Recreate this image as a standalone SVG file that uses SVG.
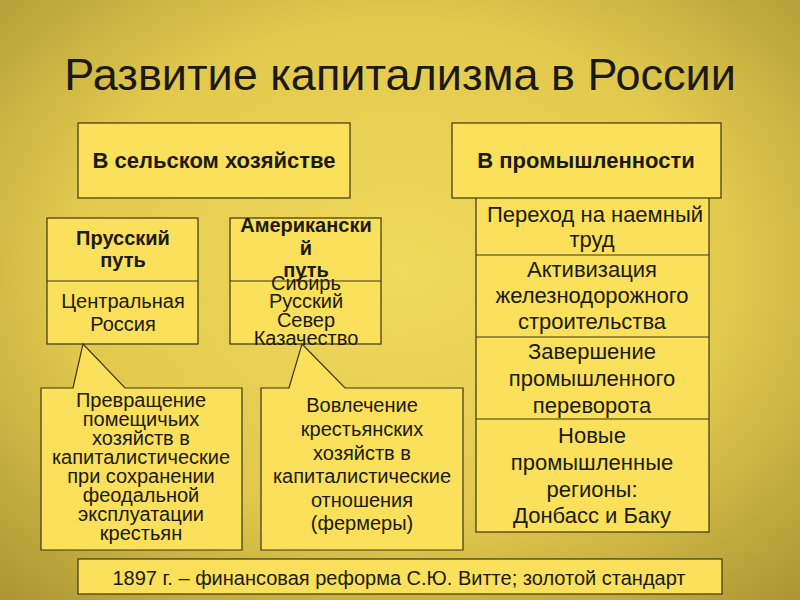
<svg xmlns="http://www.w3.org/2000/svg" width="800" height="600" viewBox="0 0 800 600">
<defs>
<radialGradient id="bg" cx="0.5" cy="0.45" r="0.75">
<stop offset="0" stop-color="#f0da5c"/>
<stop offset="0.55" stop-color="#e2c94e"/>
<stop offset="1" stop-color="#a99432"/>
</radialGradient>
<style>
.box{fill:#fbe05b;stroke:#3b3618;stroke-width:1.2}
.ln{stroke:#3b3618;stroke-width:1.2;fill:none}
text{font-family:"Liberation Sans",Arial,sans-serif;fill:#1a1a10;text-anchor:middle}
.b{font-weight:bold}
.t20{font-size:20px}
.t22{font-size:22px}
</style>
</defs>
<rect width="800" height="600" fill="url(#bg)"/>
<text x="400" y="90" style="font-size:45px">Развитие капитализма в России</text>

<g id="connectors">
</g>

<g id="agri">
<rect class="box" x="78" y="123" width="272" height="75"/>
<text class="b t22" x="214" y="168">В сельском хозяйстве</text>
</g>
<g id="industry-right">
<rect class="box" x="476" y="196" width="233" height="336"/>
<line class="ln" x1="476" y1="255" x2="709" y2="255"/>
<line class="ln" x1="476" y1="337" x2="709" y2="337"/>
<line class="ln" x1="476" y1="419" x2="709" y2="419"/>
<text class="t22" x="595" y="222">Переход на наемный</text>
<text class="t22" x="592" y="247">труд</text>
<text class="t22" x="592" y="277">Активизация</text>
<text class="t22" x="592" y="303">железнодорожного</text>
<text class="t22" x="592" y="329">строительства</text>
<text class="t22" x="592" y="359">Завершение</text>
<text class="t22" x="592" y="386">промышленного</text>
<text class="t22" x="592" y="413">переворота</text>
<text class="t22" x="592" y="443">Новые</text>
<text class="t22" x="592" y="470">промышленные</text>
<text class="t22" x="592" y="497">регионы:</text>
<text class="t22" x="592" y="523">Донбасс и Баку</text>
</g>
<g id="industry">
<rect class="box" x="452" y="123" width="269" height="75"/>
<text class="b t22" x="586" y="168">В промышленности</text>
</g>
<g id="prussian">
<rect class="box" x="47" y="218" width="151" height="126"/>
<line class="ln" x1="47" y1="281" x2="198" y2="281"/>
<text class="b t20" x="123" y="245">Прусский</text>
<text class="b t20" x="123" y="267">путь</text>
<text class="t20" x="123" y="308">Центральная</text>
<text class="t20" x="123" y="331">Россия</text>
</g>
<g id="american">
<rect class="box" x="230" y="218" width="151" height="126"/>
<line class="ln" x1="230" y1="281" x2="381" y2="281"/>
<text class="b t20" x="306" y="232">Американски</text>
<text class="b t20" x="306" y="255">й</text>
<text class="b t20" x="306" y="277">путь</text>
<text class="t20" x="306" y="290">Сибирь</text>
<text class="t20" x="306" y="308">Русский</text>
<text class="t20" x="306" y="327">Север</text>
<text class="t20" x="306" y="345">Казачество</text>
</g>
<g id="callout-left">
<path class="box" d="M41,388 H73 L83,344 L125,388 H242 V550 H41 Z"/>
<text class="t20" x="141" y="407">Превращение</text>
<text class="t20" x="141" y="426">помещичьих</text>
<text class="t20" x="141" y="445">хозяйств в</text>
<text class="t20" x="141" y="464">капиталистические</text>
<text class="t20" x="141" y="483">при сохранении</text>
<text class="t20" x="141" y="502">феодальной</text>
<text class="t20" x="141" y="521">эксплуатации</text>
<text class="t20" x="141" y="540">крестьян</text>
</g>
<g id="callout-right">
<path class="box" d="M261,388 H289 L302,344 L345,388 H463 V550 H261 Z"/>
<text class="t20" x="362" y="412">Вовлечение</text>
<text class="t20" x="362" y="436">крестьянских</text>
<text class="t20" x="362" y="460">хозяйств в</text>
<text class="t20" x="362" y="483">капиталистические</text>
<text class="t20" x="362" y="507">отношения</text>
<text class="t20" x="362" y="530">(фермеры)</text>
</g>
<g id="witte">
<rect class="box" x="78" y="559" width="644" height="35"/>
<text class="t20" x="399" y="585">1897 г. – финансовая реформа С.Ю. Витте; золотой стандарт</text>
</g>
</svg>
